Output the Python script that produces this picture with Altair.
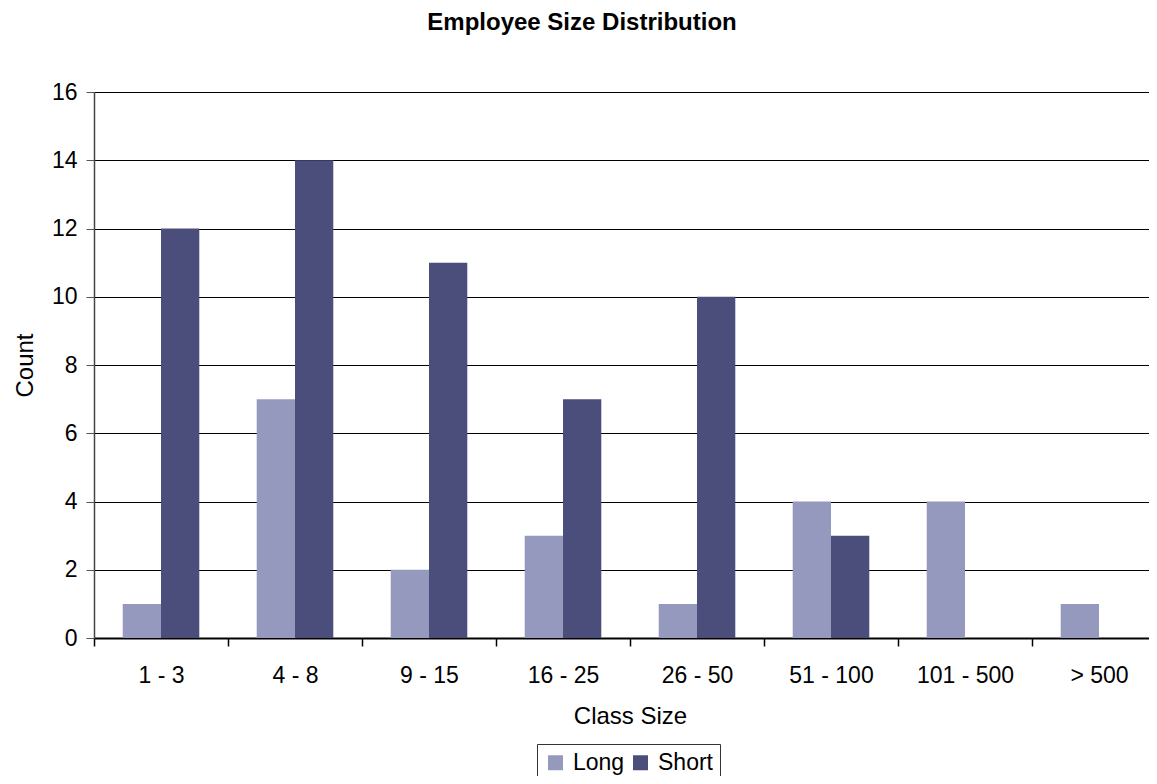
import altair as alt
import pandas as pd

categories = ["1 - 3", "4 - 8", "9 - 15", "16 - 25", "26 - 50", "51 - 100", "101 - 500", "> 500"]
long_counts = [1, 7, 2, 3, 1, 4, 4, 1]
short_counts = [12, 14, 11, 7, 10, 3, 0, 0]
series_names = ["Long", "Short"]
series_colors = ["#9699BE", "#4B4E7B"]

rows = []
for c, l, s in zip(categories, long_counts, short_counts):
    rows.append({"cat": c, "series": "Long", "value": l})
    rows.append({"cat": c, "series": "Short", "value": s})
df = pd.DataFrame(rows)

FONT = "Liberation Sans"

chart = alt.Chart(df).mark_bar().encode(
    x=alt.X("cat:N", sort=categories, title="Class Size",
            scale=alt.Scale(paddingInner=0, paddingOuter=0),
            axis=alt.Axis(labelAngle=0, tickBand="extent", grid=False,
                          tickSize=8, tickColor="#000000", tickWidth=1.5,
                          domainColor="#000000", domainWidth=2,
                          labelFontSize=23, labelFont=FONT, labelColor="#000000",
                          labelBaseline="alphabetic", labelPadding=36,
                          titleFontSize=24, titleFont=FONT, titleFontWeight="normal",
                          titleColor="#000000", titleBaseline="alphabetic",
                          titleX=536, titleY=85)),
    xOffset=alt.XOffset("series:N", sort=series_names,
                        scale=alt.Scale(paddingInner=0, paddingOuter=0.75)),
    y=alt.Y("value:Q", title="Count",
            scale=alt.Scale(domain=[0, 16], nice=False),
            axis=alt.Axis(values=[0, 2, 4, 6, 8, 10, 12, 14, 16], grid=True,
                          gridColor="#000000", gridWidth=1, gridOpacity=1,
                          tickSize=8, tickColor="#555555",
                          domainColor="#444444", domainWidth=1.5,
                          labelFontSize=23, labelFont=FONT, labelColor="#000000",
                          labelPadding=9, labelBaseline="middle",
                          titleFontSize=24, titleFont=FONT, titleFontWeight="normal",
                          titleColor="#000000", titleBaseline="alphabetic",
                          titleX=-62, titleY=273, titleAngle=270)),
    color=alt.Color("series:N", sort=series_names,
                    scale=alt.Scale(domain=series_names, range=series_colors),
                    legend=alt.Legend(title=None, orient="none", legendX=443, legendY=652,
                                      direction="horizontal", columns=2,
                                      symbolType="square", symbolSize=225,
                                      symbolStrokeWidth=0, symbolOpacity=1,
                                      labelFontSize=23, labelFont=FONT, labelColor="#000000",
                                      labelOffset=6, columnPadding=4,
                                      padding=7, strokeColor="#333333",
                                      fillColor="#ffffff")),
).properties(
    width=1072,
    height=546,
    title=alt.TitleParams(text="Employee Size Distribution", fontSize=24,
                          fontWeight="bold", font=FONT, color="#000000",
                          anchor="middle", frame="group", dx=-48, dy=15, offset=42,
                          baseline="alphabetic"),
    autosize=alt.AutoSizeParams(type="none"),
    padding={"left": 86, "top": 84, "right": -17, "bottom": 138},
).configure_view(strokeWidth=0)

chart.save("out.html", embed_options={"renderer": "svg", "actions": False})
